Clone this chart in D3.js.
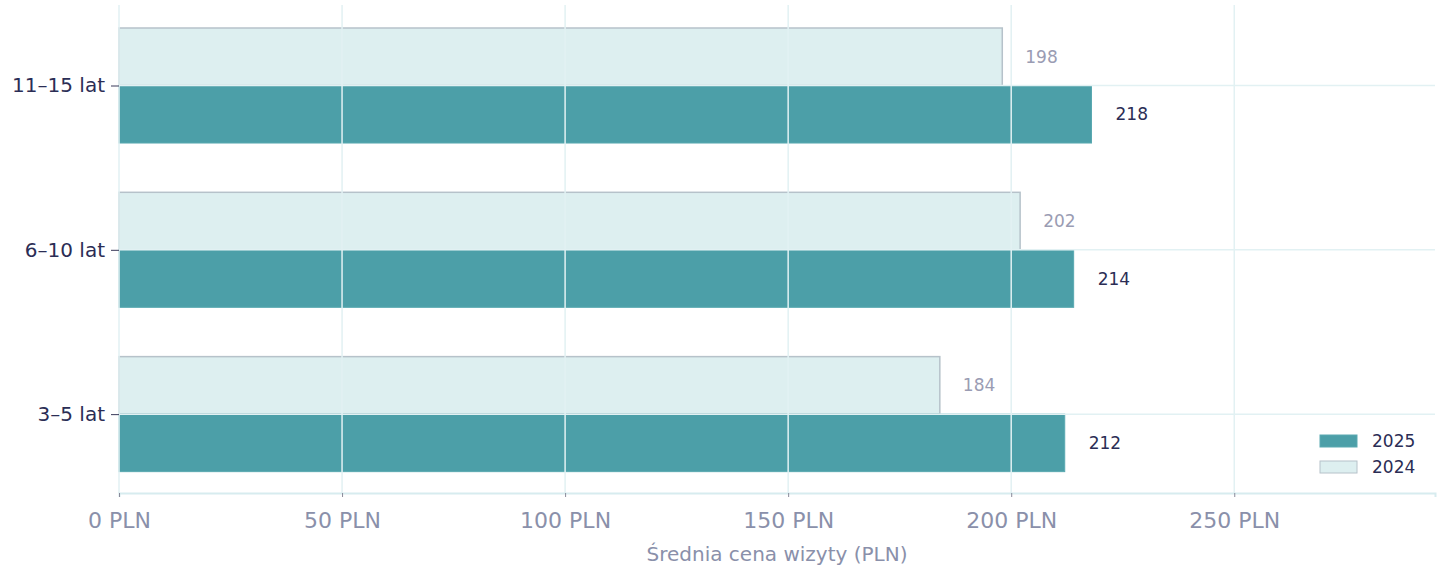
<!DOCTYPE html>
<html lang="pl">
<head>
  <meta charset="UTF-8">
  <title>Średnia cena wizyty</title>
  <script src="https://d3js.org/d3.v7.min.js"></script>
  <style>
    body { margin: 0; background: #fff; }
    svg text { font-family: "DejaVu Sans", sans-serif; }
  </style>
</head>
<body>
  <div id="chart"></div>
  <script>
    // dane
    var categories = ["3–5 lat", "6–10 lat", "11–15 lat"];
    var values2025 = [212, 214, 218];
    var values2024 = [184, 202, 198];
    var xTicks = [0, 50, 100, 150, 200, 250];
    var seriesNames = ["2025", "2024"];

    var W = 1442, H = 569;
    var margin = {top: 5, right: 7, bottom: 76, left: 119};
    var width = W - margin.left - margin.right,
        height = H - margin.top - margin.bottom;

    var svg = d3.select("#chart").append("svg")
      .attr("width", W).attr("height", H);
    var g = svg.append("g")
      .attr("transform", "translate(" + margin.left + "," + margin.top + ")");

    var x = d3.scaleLinear().domain([0, 295]).range([0, width]);
    // categorie in posizione 0,1,2
    var y = d3.scaleLinear().domain([-0.48, 2.49]).range([height, 0]);
    var bh = 0.35; // altezza barra in unità

    var teal = "#4c9fa8", pale = "#ddeff0", paleStroke = "#b6c2ca";

    // barre 2024 (sopra)
    g.selectAll(".b24").data(values2024).enter().append("rect")
      .attr("x", x(0))
      .attr("y", function(d, i) { return y(i + bh); })
      .attr("width", function(d) { return x(d) - x(0); })
      .attr("height", function(d, i) { return y(i) - y(i + bh); })
      .attr("fill", pale).attr("stroke", paleStroke).attr("stroke-width", 1.5);

    // barre 2025 (sotto)
    g.selectAll(".b25").data(values2025).enter().append("rect")
      .attr("x", x(0))
      .attr("y", function(d, i) { return y(i); })
      .attr("width", function(d) { return x(d) - x(0); })
      .attr("height", function(d, i) { return y(i - bh) - y(i); })
      .attr("fill", teal).attr("stroke", "#5aa9b1").attr("stroke-width", 1);

    // griglia sopra le barre
    g.selectAll(".vg").data(xTicks).enter().append("line")
      .attr("x1", function(d) { return x(d); }).attr("x2", function(d) { return x(d); })
      .attr("y1", 0).attr("y2", height)
      .attr("stroke", "#e2f1f3").attr("stroke-width", 1.5);
    g.selectAll(".hg").data(categories).enter().append("line")
      .attr("x1", 0).attr("x2", width)
      .attr("y1", function(d, i) { return y(i); }).attr("y2", function(d, i) { return y(i); })
      .attr("stroke", "#e2f1f3").attr("stroke-width", 1.5);

    // asse x
    var xAxis = g.append("g")
      .attr("transform", "translate(0," + height + ")")
      .call(d3.axisBottom(x).tickValues(xTicks).tickSize(4).tickPadding(15)
        .tickFormat(function(d) { return d + " PLN"; }));
    xAxis.select(".domain").attr("stroke", "#d7ecef").attr("stroke-width", 2);
    xAxis.selectAll(".tick line").attr("stroke", "#8a8a9a");
    xAxis.selectAll("text").attr("fill", "#8a90aa").attr("font-size", 22);

    // asse y
    var yAxis = g.append("g")
      .call(d3.axisLeft(y).tickValues([0, 1, 2]).tickSize(8).tickPadding(6)
        .tickFormat(function(d) { return categories[d]; }));
    yAxis.select(".domain").remove();
    yAxis.selectAll(".tick line").attr("stroke", "#3a3a5a");
    yAxis.selectAll("text").attr("fill", "#2b2d55").attr("font-size", 20);

    // etichette valori
    g.selectAll(".l25").data(values2025).enter().append("text")
      .attr("x", function(d) { return x(d) + 24; })
      .attr("y", function(d, i) { return y(i - bh / 2); })
      .attr("dy", "0.35em")
      .attr("font-size", 17).attr("fill", "#2b2d55")
      .text(function(d) { return d; });
    g.selectAll(".l24").data(values2024).enter().append("text")
      .attr("x", function(d) { return x(d) + 23; })
      .attr("y", function(d, i) { return y(i + bh / 2); })
      .attr("dy", "0.35em")
      .attr("font-size", 17).attr("fill", "#9a9cb3")
      .text(function(d) { return d; });

    // titolo asse x
    svg.append("text")
      .attr("x", margin.left + width / 2).attr("y", 561)
      .attr("text-anchor", "middle")
      .attr("font-size", 20).attr("fill", "#8a90aa")
      .text("Średnia cena wizyty (PLN)");

    // legenda
    var legend = svg.append("g").attr("transform", "translate(1320,435)");
    var legColors = [[teal, "#5aa9b1"], [pale, paleStroke]];
    seriesNames.forEach(function(s, i) {
      legend.append("rect")
        .attr("x", 0).attr("y", i * 26)
        .attr("width", 37).attr("height", 12)
        .attr("fill", legColors[i][0]).attr("stroke", legColors[i][1]).attr("stroke-width", 1);
      legend.append("text")
        .attr("x", 52).attr("y", i * 26 + 6).attr("dy", "0.35em")
        .attr("font-size", 17).attr("fill", "#2b2d55")
        .text(s);
    });
  </script>
</body>
</html>
